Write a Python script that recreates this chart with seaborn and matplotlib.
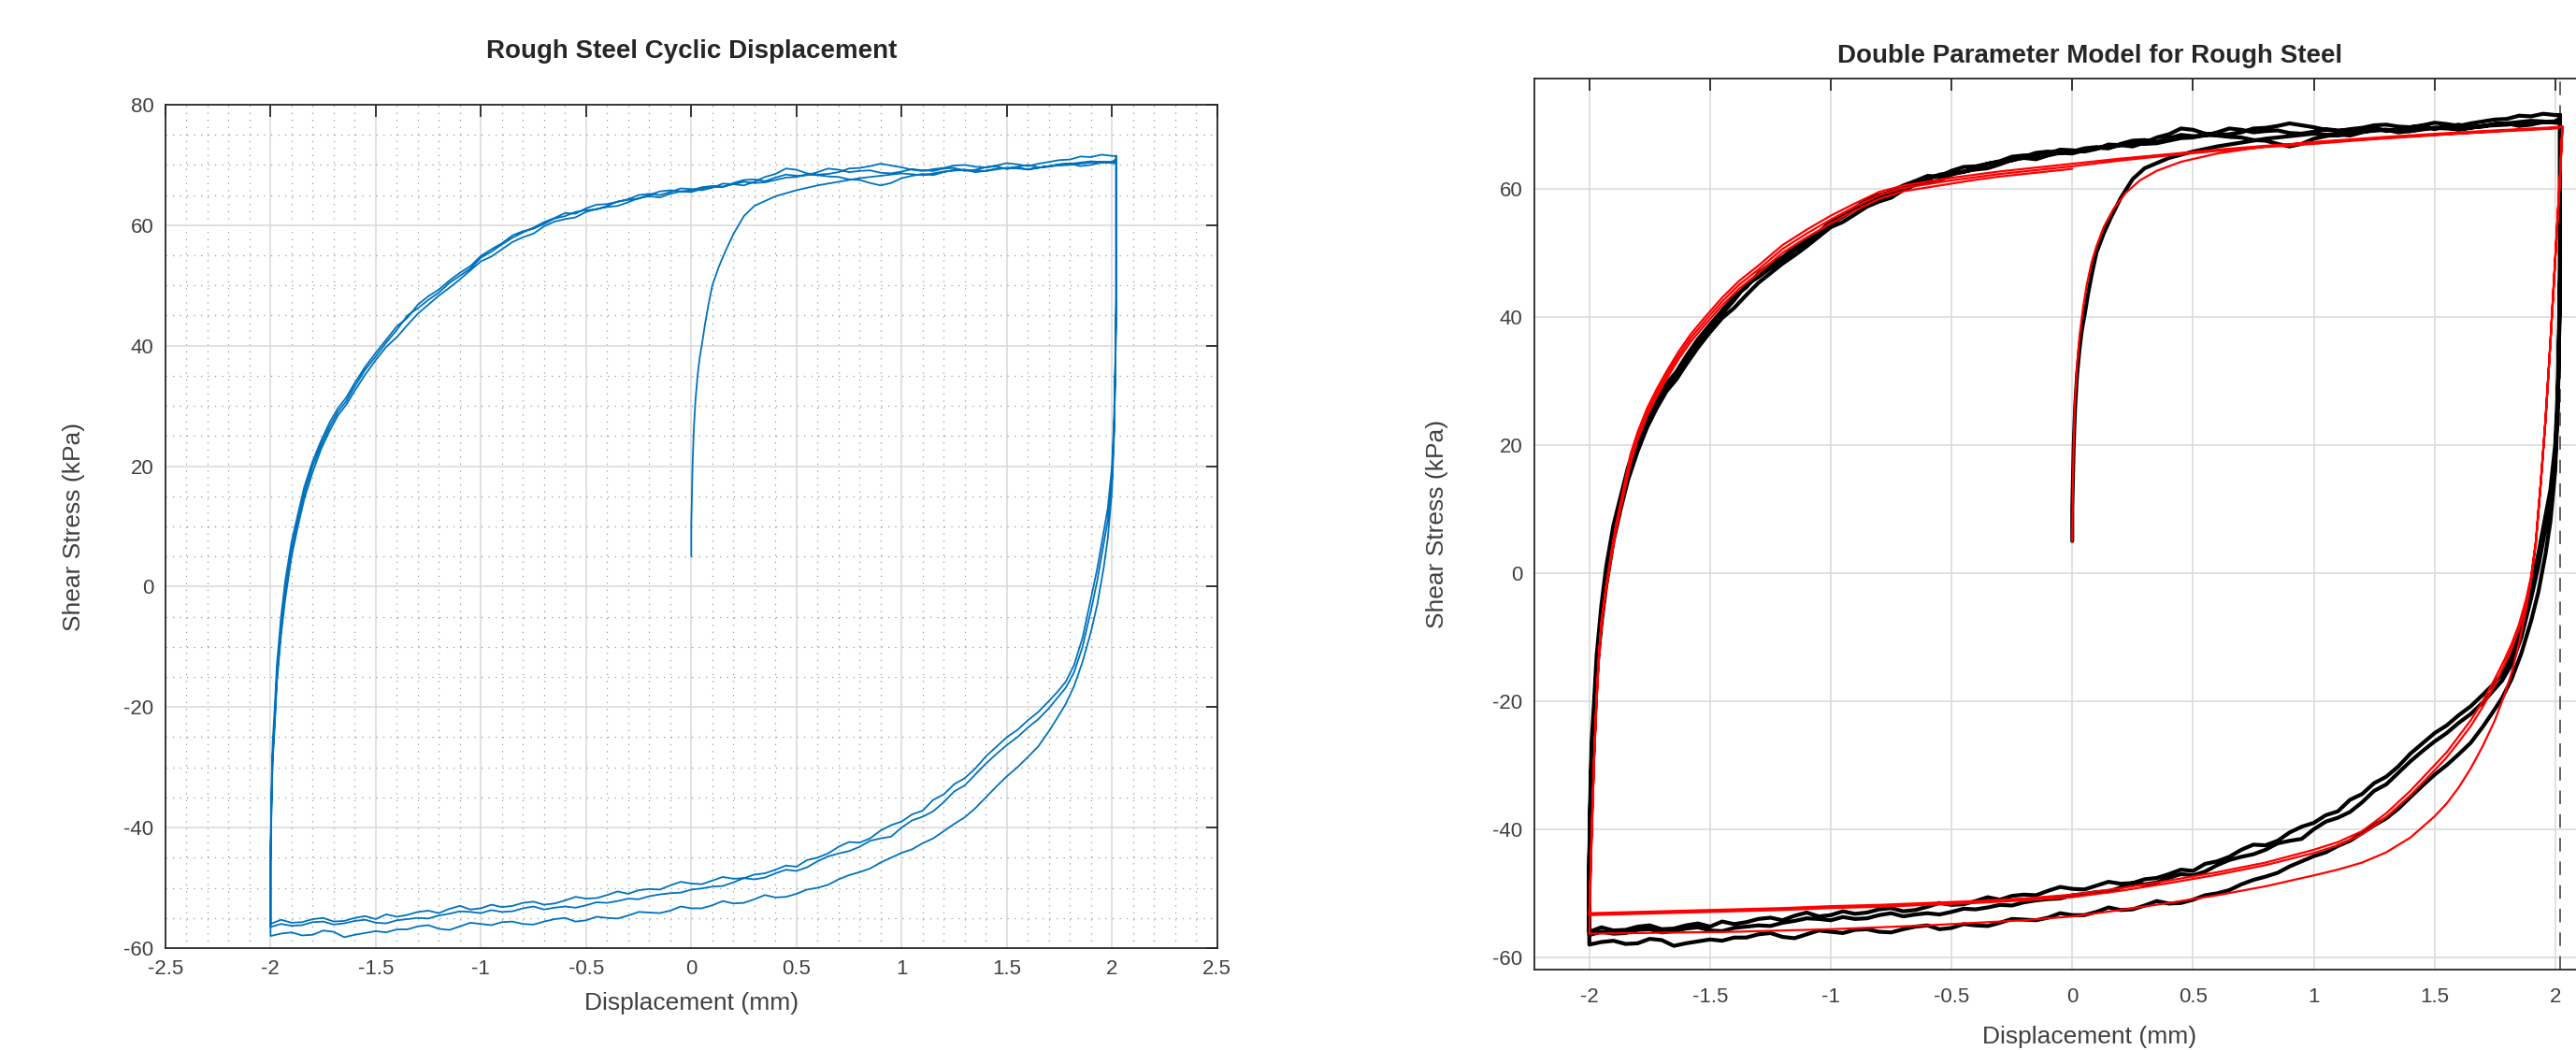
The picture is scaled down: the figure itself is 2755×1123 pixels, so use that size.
import numpy as np
import pandas as pd
import matplotlib
matplotlib.use("Agg")
import matplotlib.pyplot as plt
from matplotlib.ticker import MultipleLocator
import seaborn as sns

# --- measured shear test (mm, kPa) ---
INIT_X = [0.0, 0.0, 0.003, 0.006, 0.012,
          0.02, 0.03, 0.04, 0.052, 0.065,
          0.08, 0.1, 0.13, 0.16, 0.2,
          0.25, 0.3, 0.4, 0.5,
          0.6, 0.7, 0.8, 0.9, 1.0, 1.1, 1.2, 1.3, 1.4, 1.5, 1.6, 1.7, 1.8, 1.9,
          2.0, 2.02]
INIT_Y = [5, 10, 15, 20, 26,
          31, 35, 38, 40.5, 43.5,
          46.5, 50, 53, 55.5, 58.5,
          61.5, 63.2, 64.8, 65.8,
          66.6, 67.2, 67.8, 68.2, 68.6, 68.3, 68.9, 69.2, 69.0, 69.5, 69.3, 69.8, 70.0, 70.4,
          70.5, 71.0]

UNLOAD_X = [2.02, 2.02, 2.02, 2.015, 2.01, 2.0,
            1.98, 1.96, 1.93, 1.9,
            1.86, 1.82, 1.78, 1.74, 1.7,
            1.65, 1.6, 1.55, 1.5,
            1.45, 1.4, 1.35, 1.3,
            1.25, 1.2, 1.15, 1.1, 1.05, 1.0,
            0.95, 0.9, 0.85, 0.8, 0.75, 0.7, 0.65, 0.6, 0.55, 0.5,
            0.45, 0.4, 0.35, 0.3, 0.25, 0.2, 0.15, 0.1, 0.05, 0.0,
            -0.05, -0.1, -0.15, -0.2, -0.25, -0.3, -0.35, -0.4, -0.45, -0.5,
            -0.55, -0.6, -0.65, -0.7, -0.75, -0.8, -0.85, -0.9, -0.95, -1.0,
            -1.05, -1.1, -1.15, -1.2, -1.25, -1.3, -1.35, -1.4, -1.45, -1.5,
            -1.55, -1.6, -1.65, -1.7, -1.75, -1.8, -1.85, -1.9, -1.95, -2.0]
U1_Y = [71.5, 62.0, 48.0, 36.0, 28.0, 20.0,
        13.0, 9.0, 3.0, -2.0,
        -8.5, -13.0, -15.8, -17.5, -19.0,
        -20.8, -22.2, -23.8, -25.0,
        -26.6, -28.2, -30.2, -31.8,
        -32.8, -34.5, -35.4, -37.2, -37.8, -39.0,
        -39.6, -40.5, -41.8, -42.5, -42.4, -43.2, -44.3, -45.0, -45.4, -46.5,
        -46.3, -47.0, -47.6, -47.8, -48.4, -48.5, -48.2, -48.8, -49.4, -49.3,
        -49.0, -49.6, -50.3, -50.2, -50.4, -51.0, -50.6, -51.2, -51.7, -51.8,
        -51.5, -52.1, -52.6, -52.8, -52.3, -52.5, -53.0, -53.2, -52.8, -53.4,
        -53.6, -53.0, -53.5, -54.2, -53.8, -54.0, -54.5, -54.8, -54.4, -55.2,
        -54.7, -55.0, -55.5, -55.6, -55.0, -55.2, -55.7, -55.8, -55.3, -56.0]
U2_Y = [70.5, 60.0, 46.0, 34.0, 26.0, 18.0,
        11.0, 7.0, 1.0, -4.0,
        -10.0, -14.2, -16.8, -18.5, -20.2,
        -22.0, -23.4, -25.0, -26.3,
        -27.8, -29.4, -31.2, -33.0,
        -34.0, -35.8, -37.3, -38.2, -38.8, -40.0,
        -41.5, -41.8, -42.2, -43.2, -43.9, -44.3, -44.8, -45.6, -46.6, -47.2,
        -47.0, -47.6, -48.3, -48.6, -48.4, -49.1, -49.7, -49.8, -50.1, -50.3,
        -50.8, -50.9, -51.1, -51.4, -51.9, -51.8, -52.2, -52.5, -52.4, -52.9,
        -53.3, -53.1, -53.3, -53.6, -53.1, -53.4, -53.9, -54.0, -53.7, -54.2,
        -54.0, -53.9, -54.3, -54.6, -55.1, -55.0, -55.2, -55.4, -55.9, -55.8,
        -55.3, -55.5, -55.9, -56.1, -55.6, -55.7, -56.2, -56.3, -56.0, -56.5]
U3_Y = [71.0, 60.0, 46.0, 34.0, 25.0, 16.0,
        8.0, 3.0, -3.0, -7.5,
        -12.5, -16.5, -19.5, -21.8, -24.0,
        -26.5, -28.3, -30.0, -31.5,
        -33.2, -35.0, -36.8, -38.3,
        -39.4, -40.6, -41.8, -42.6, -43.6, -44.2,
        -45.0, -45.8, -46.8, -47.4, -47.9, -48.6, -49.5, -50.0, -50.3, -51.0,
        -51.5, -51.6, -51.2, -51.9, -52.5, -52.6, -52.2, -52.9, -53.4, -53.4,
        -53.1, -53.8, -54.2, -54.1, -54.0, -54.6, -55.1, -55.0, -54.8, -55.4,
        -55.6, -55.0, -55.2, -55.6, -56.1, -56.0, -55.6, -55.7, -56.2, -56.0,
        -55.8, -56.4, -57.0, -56.8, -56.2, -56.4, -56.9, -56.9, -57.4, -57.2,
        -57.5, -57.8, -58.2, -57.3, -57.1, -57.8, -57.9, -57.4, -57.6, -58.0]

LOAD_X = [-2.0, -2.0, -1.995, -1.99, -1.98,
          -1.97, -1.95, -1.93, -1.9,
          -1.87, -1.84, -1.8,
          -1.76, -1.72, -1.68, -1.64, -1.6,
          -1.55, -1.5, -1.45, -1.4,
          -1.35, -1.3, -1.25, -1.2, -1.15, -1.1, -1.05, -1.0,
          -0.95, -0.9, -0.85, -0.8, -0.75, -0.7, -0.65, -0.6, -0.55, -0.5,
          -0.45, -0.4, -0.35, -0.3, -0.25, -0.2, -0.15, -0.1, -0.05, 0.0,
          0.05, 0.1, 0.15, 0.2, 0.25, 0.3, 0.35, 0.4, 0.45, 0.5,
          0.55, 0.6, 0.65, 0.7, 0.75, 0.8, 0.85, 0.9, 0.95, 1.0,
          1.05, 1.1, 1.15, 1.2, 1.25, 1.3, 1.35, 1.4, 1.45, 1.5,
          1.55, 1.6, 1.65, 1.7, 1.75, 1.8, 1.85, 1.9, 1.95, 2.0,
          2.02]
L1_Y = [-56.0, -45.0, -35.0, -28.0, -22.0,
        -15.0, -7.0, -1.0, 6.0,
        11.0, 15.5, 20.0,
        23.5, 26.5, 29.0, 30.8, 33.2,
        36.0, 38.2, 40.5, 42.6,
        45.0, 46.2, 47.6, 48.8, 50.4, 51.6, 52.8, 54.6,
        55.6, 56.8, 57.9, 58.8, 59.6, 60.5, 61.2, 62.0, 61.9, 62.8,
        63.4, 63.5, 63.9, 64.3, 65.0, 65.2, 65.0, 65.5, 66.1, 66.0,
        65.8, 66.2, 66.9, 66.8, 66.6, 67.2, 68.0, 68.5, 69.4, 69.2,
        68.6, 68.4, 68.5, 68.8, 69.4, 69.5, 69.8, 70.2, 69.9, 69.6,
        69.2, 69.0, 69.3, 69.5, 69.9, 70.0, 69.7, 69.6, 69.9, 70.3,
        70.1, 69.8, 70.2, 70.5, 70.8, 70.9, 71.4, 71.3, 71.7, 71.5,
        71.5]
L2_Y = [-56.5, -44.0, -33.0, -26.0, -20.0,
        -13.0, -5.0, 1.0, 7.5,
        12.0, 16.5, 20.8,
        24.2, 27.2, 29.6, 31.4, 33.8,
        36.5, 38.8, 41.0, 43.2,
        44.6, 46.8, 48.2, 49.3, 50.8, 52.1, 53.2, 54.9,
        56.0, 57.0, 58.3, 59.0, 59.4, 60.2, 61.1, 61.5, 62.2, 62.5,
        62.6, 63.2, 63.9, 64.2, 64.4, 65.0, 65.6, 65.8, 65.6, 65.8,
        66.3, 66.5, 66.4, 66.8, 67.2, 67.0, 67.1, 67.5, 67.9, 68.0,
        68.4, 68.3, 68.1, 68.0, 67.6, 67.5, 67.0, 66.6, 67.0, 67.8,
        68.2, 68.5, 68.3, 68.8, 69.2, 69.2, 68.8, 69.0, 69.4, 69.5,
        69.6, 69.2, 69.5, 69.8, 70.1, 70.2, 69.8, 70.0, 70.4, 70.5,
        70.5]
L3_Y = [-58.0, -46.0, -36.0, -29.0, -23.0,
        -16.0, -8.0, -2.0, 5.0,
        10.0, 14.5, 19.0,
        22.8, 25.8, 28.4, 30.2, 32.5,
        35.2, 37.6, 39.8, 41.4,
        43.4, 45.3, 46.8, 48.3, 49.6, 51.0, 52.5, 54.0,
        54.8, 56.0, 57.2, 58.0, 58.6, 59.8, 60.6, 61.0, 61.3, 62.2,
        62.7, 63.0, 63.2, 63.8, 64.5, 64.8, 64.6, 65.2, 65.6, 65.5,
        66.0, 66.4, 66.3, 67.0, 67.5, 67.6, 67.3, 67.9, 68.4, 68.2,
        68.3, 68.8, 69.4, 69.2, 68.8, 69.0, 69.1, 68.7, 68.6, 68.9,
        69.3, 69.1, 69.0, 69.4, 69.5, 69.0, 69.2, 69.6, 69.8, 69.3,
        69.7, 70.0, 69.6, 69.7, 70.1, 70.2, 70.4, 70.6, 70.5, 70.3,
        70.3]

# --- double parameter model ---
MODEL_INIT_X = [0.0, 0.002, 0.005, 0.01, 0.02,
                0.03, 0.045, 0.06, 0.08, 0.1,
                0.13, 0.17, 0.22, 0.28, 0.35,
                0.45, 0.6, 0.8, 1.0, 1.3,
                1.6, 2.0, 2.03]
MODEL_INIT_Y = [5, 12, 19, 26, 32.5,
                37, 41.5, 45, 48.5, 51,
                54, 56.8, 59.3, 61.3, 62.8,
                64.2, 65.5, 66.6, 67.3, 68.1,
                68.8, 69.6, 69.7]

MODEL_UNLOAD_X = [2.03, 2.02, 2.01, 2.0, 1.99, 1.98,
                  1.96, 1.94, 1.92, 1.9, 1.88,
                  1.85, 1.82, 1.79, 1.75,
                  1.7, 1.65, 1.6, 1.55, 1.5,
                  1.4, 1.3, 1.2, 1.1, 1.0,
                  0.8, 0.6, 0.4, 0.2, 0.0,
                  -0.2, -0.4, -0.6, -0.8, -1.0, -1.2, -1.4, -1.6, -1.8, -2.0]
MU1_Y = [69.7, 62.0, 55.5, 49.0, 42.5, 36.0,
         24.0, 14.0, 5.0, -0.5, -4.0,
         -8.0, -11.0, -13.5, -16.5,
         -20.0, -23.0, -25.5, -28.0, -30.0,
         -34.0, -37.5, -40.3, -42.0, -43.2,
         -45.2, -46.7, -48.0, -49.2, -50.2,
         -50.8, -51.2, -51.5, -51.8, -52.0, -52.3, -52.5, -52.7, -52.9, -53.1]
MU2_Y = [69.7, 62.0, 55.5, 49.0, 42.5, 36.0,
         24.0, 14.0, 4.6, -1.0, -4.6,
         -8.7, -11.8, -14.3, -17.4,
         -20.9, -23.9, -26.4, -28.8, -30.8,
         -34.7, -38.1, -40.8, -42.5, -43.7,
         -45.6, -47.1, -48.4, -49.6, -50.6,
         -51.1, -51.5, -51.8, -52.1, -52.3, -52.6, -52.8, -53.0, -53.2, -53.4]
MU3_Y = [69.7, 62.0, 55.5, 49.0, 42.5, 36.0,
         24.0, 14.0, 5.0, -1.0, -5.5,
         -11.0, -15.5, -19.0, -23.0,
         -27.0, -30.5, -33.5, -36.0, -38.0,
         -41.3, -43.6, -45.2, -46.3, -47.2,
         -48.9, -50.3, -51.5, -52.6, -53.6,
         -54.2, -54.6, -55.0, -55.3, -55.6, -55.8, -56.0, -56.1, -56.2, -56.3]

MODEL_LOAD_X = [-2.0, -1.99, -1.98, -1.97, -1.96, -1.95,
                -1.93, -1.91, -1.89,
                -1.86, -1.83, -1.8,
                -1.76, -1.72, -1.68,
                -1.63, -1.58, -1.52,
                -1.45, -1.38, -1.3,
                -1.2, -1.1, -1.0,
                -0.9, -0.8, -0.7, -0.6, -0.5, -0.4, -0.3, -0.2, -0.1,
                0.0,
                0.2, 0.4, 0.6, 0.8, 1.0,
                1.2, 1.4, 1.6, 1.8, 2.0,
                2.03]
ML1_Y = [-56.3, -41.0, -29.0, -20.0, -13.0, -8.0,
         -2.0, 3.0, 7.5,
         13.0, 18.5, 22.0,
         25.8, 28.8, 31.5,
         34.6, 37.3, 40.0,
         43.0, 45.6, 48.0,
         51.2, 53.6, 55.8,
         57.7, 59.5, 60.5, 61.1, 61.7, 62.2, 62.7, 63.1, 63.5,
         63.9,
         64.7, 65.4, 66.1, 66.7, 67.2,
         67.7, 68.2, 68.6, 69.1, 69.5,
         69.7]
ML2_Y = [-53.1, -40.0, -28.5, -19.5, -12.5, -7.5,
         -2.0, 2.6, 7.0,
         12.4, 17.8, 21.4,
         25.2, 28.2, 30.9,
         34.0, 36.7, 39.4,
         42.4, 45.0, 47.4,
         50.6, 53.0, 55.2,
         57.2, 59.0, 60.1, 60.7, 61.3, 61.8, 62.3, 62.7, 63.1,
         63.5,
         64.4, 65.2, 65.9, 66.5, 67.0,
         67.6, 68.1, 68.6, 69.0, 69.4,
         69.7]
# last half cycle of the model stops at zero displacement
ML3_Y = [-53.4, -40.5, -29.0, -20.0, -13.0, -8.0,
         -2.5, 2.2, 6.5,
         11.8, 17.0, 20.8,
         24.6, 27.6, 30.3,
         33.4, 36.1, 38.8,
         41.8, 44.4, 46.8,
         50.0, 52.4, 54.6,
         56.6, 58.4, 59.6, 60.2, 60.8, 61.4, 61.9, 62.3, 62.7,
         63.1]

XTICKS_LEFT = [-2.5, -2, -1.5, -1, -0.5, 0, 0.5, 1, 1.5, 2, 2.5]
XTICKS_RIGHT = [-2, -1.5, -1, -0.5, 0, 0.5, 1, 1.5, 2]
YTICKS_LEFT = [-60, -40, -20, 0, 20, 40, 60, 80]
YTICKS_RIGHT = [-60, -40, -20, 0, 20, 40, 60]


def trace(branches):
    xs, ys = [], []
    for bx, by in branches:
        xs.extend(bx)
        ys.extend(by)
    return pd.DataFrame({"disp": xs, "stress": ys})


test_df = trace([(INIT_X, INIT_Y), (UNLOAD_X, U3_Y), (LOAD_X, L3_Y),
                 (UNLOAD_X, U1_Y), (LOAD_X, L1_Y), (UNLOAD_X, U2_Y), (LOAD_X, L2_Y)])
model_df = trace([(MODEL_INIT_X, MODEL_INIT_Y), (MODEL_UNLOAD_X, MU3_Y), (MODEL_LOAD_X, ML1_Y),
                  (MODEL_UNLOAD_X, MU1_Y), (MODEL_LOAD_X, ML2_Y), (MODEL_UNLOAD_X, MU2_Y),
                  (MODEL_LOAD_X[:34], ML3_Y)])

sns.set_theme(style="white")
plt.rcParams['font.family'] = ['Liberation Sans', 'DejaVu Sans']
plt.rcParams['axes.unicode_minus'] = False
plt.rcParams['axes.edgecolor'] = '#262626'
plt.rcParams['axes.linewidth'] = 1.3

TXT = '#404040'

fig = plt.figure(figsize=(27.55, 11.23), dpi=100)
ax1 = fig.add_axes([0.0642, 0.0971, 0.4083, 0.8032])
ax2 = fig.add_axes([0.5956, 0.0766, 0.4312, 0.8486])

# left panel: raw test data
sns.lineplot(data=test_df, x="disp", y="stress", sort=False, estimator=None,
             color="#0072BD", lw=1.3, ax=ax1)
ax1.set_xlim(-2.5, 2.5)
ax1.set_ylim(-60, 80)
ax1.set_xticks(XTICKS_LEFT)
ax1.set_xticklabels([f"{v:g}" for v in XTICKS_LEFT])
ax1.set_yticks(YTICKS_LEFT)
ax1.xaxis.set_minor_locator(MultipleLocator(0.1))
ax1.yaxis.set_minor_locator(MultipleLocator(5))
ax1.grid(True, which="major", color="#d9d9d9", lw=1.1)
ax1.grid(True, which="minor", color="#9a9a9a", lw=0.9, ls=(0, (1, 5)))
ax1.tick_params(which="minor", length=0)
ax1.set_title("Rough Steel Cyclic Displacement", fontsize=20, fontweight="bold", pad=36)

# right panel: test data with model
sns.lineplot(data=test_df, x="disp", y="stress", sort=False, estimator=None,
             color="black", lw=3.0, ax=ax2)
sns.lineplot(data=model_df, x="disp", y="stress", sort=False, estimator=None,
             color="#ff0000", lw=1.6, ax=ax2)
ax2.axvline(2.022, color="#555555", lw=1.3, ls=(0, (8, 6)), zorder=1)
ax2.set_xlim(-2.228, 2.372)
ax2.set_ylim(-61.9, 77.2)
ax2.set_xticks(XTICKS_RIGHT)
ax2.set_xticklabels([f"{v:g}" for v in XTICKS_RIGHT])
ax2.set_yticks(YTICKS_RIGHT)
ax2.grid(True, which="major", color="#d9d9d9", lw=1.1)
ax2.set_title("Double Parameter Model for Rough Steel", fontsize=20, fontweight="bold", pad=12)

for ax, xpad, ypad in [(ax1, 10, 30), (ax2, 14, 34)]:
    ax.set_axisbelow(True)
    ax.tick_params(which="major", direction="in", length=9, width=1.3,
                   top=True, right=True, labelsize=16, labelcolor=TXT, pad=9)
    ax.set_xlabel("Displacement (mm)", fontsize=19, color=TXT, labelpad=xpad)
    ax.set_ylabel("Shear Stress (kPa)", fontsize=19, color=TXT, labelpad=ypad)
    for s in ax.spines.values():
        s.set_visible(True)
ax2.tick_params(axis="x", pad=14)

fig.savefig("out.png", dpi=100)
